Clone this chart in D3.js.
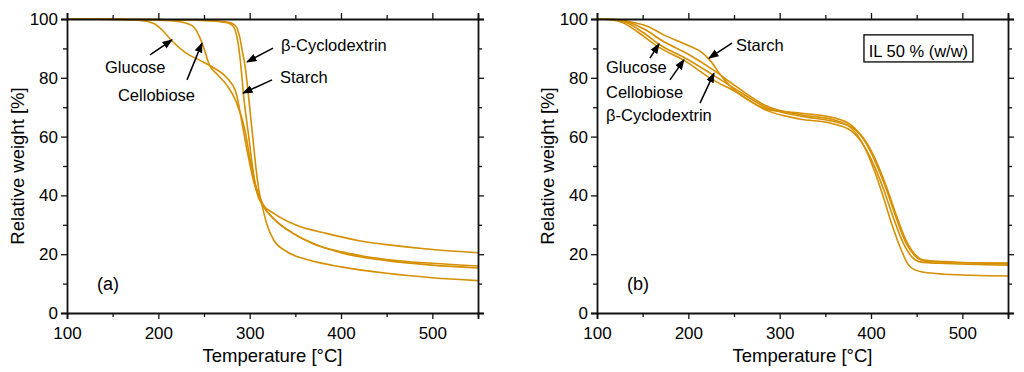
<!DOCTYPE html>
<html>
<head>
<meta charset="utf-8">
<script src="https://cdn.jsdelivr.net/npm/d3@7"></script>
<style>
  body { margin: 0; background: #fff; }
  text { font-family: "Liberation Sans", Arial, sans-serif; fill: #000; }
</style>
</head>
<body>
<div id="chart"></div>
<script>
// TGA curves: [temperature °C, relative weight %]
const glucoseA = [[100,100],[150,99.9],[180,99.5],[195,98.5],[205,96],[215,92.5],[230,88.5],[245,86],[260,83.5],[275,80],[285,75],[292,64],[298,54],[305,44],[315,36.7],[326,34],[350,30],[385,27],[420,24.6],[457,23],[500,21.6],[550,20.5]];
const cellobioseA = [[100,100],[200,99.6],[225,99],[238,97.5],[245,94],[250,90],[255,85],[265,81],[275,77.5],[285,72],[295,62],[300,53],[306,44],[315,36.7],[330,31],[348,27],[370,23.5],[402,20.7],[450,18.2],[500,16.9],[550,16]];
const cyclodextrinA = [[100,100],[200,99.8],[250,99.5],[270,99.1],[280,98.6],[285,97.5],[289,94],[292,89],[295,84],[298,76],[301,67],[304,58],[307,49],[310,42],[314,36],[319,30],[326,25],[340,21],[365,18],[402,15.6],[450,13.5],[500,12],[550,11]];
const starchA = [[100,100],[200,99.8],[250,99.5],[270,99],[277,98.6],[282,97.5],[286,94],[289,88],[291,82],[293,75],[296,67],[299,60],[303,50],[308,41],[315,36.2],[325,32.5],[348,27],[375,23],[402,20.3],[450,17.8],[500,16.3],[550,15.3]];

const glucoseB = [[100,100],[115,99.8],[128,98.8],[145,95.5],[167,90.5],[195,86],[227,79.3],[252,75.2],[285,69],[322,66],[358,64.4],[378,62],[392,57],[405,49],[415,41],[425,32],[435,24],[445,19],[455,17.3],[475,16.9],[550,16.3]];
const cellobioseB = [[100,100],[118,99.8],[132,98.8],[150,95.5],[170,91],[195,87],[227,81],[250,76.5],[285,70],[322,67],[358,65.2],[380,63],[395,58],[408,50],[418,42],[428,33],[438,25],[448,20],[458,18],[480,17.5],[550,16.8]];
const cyclodextrinB = [[100,100],[120,99.8],[135,98.9],[152,96.5],[172,92.5],[200,88],[228,82.5],[248,78],[285,70.5],[322,67.5],[358,65.8],[378,63],[392,57],[403,49],[413,40],[423,30],[433,21.5],[442,16],[455,14],[480,13.2],[550,12.6]];
const starchB = [[100,100],[122,99.8],[140,98.8],[155,97.5],[173,94.6],[200,91],[215,88.6],[225,85.5],[235,81],[248,76.5],[268,72],[290,69],[322,68],[358,66.5],[380,63.5],[395,57.5],[408,49],[418,41],[428,32],[438,24],[448,19.5],[460,17.6],[490,17.2],[550,17]];

const xTicks = [100, 200, 300, 400, 500];
const xMinor = [150, 250, 350, 450, 550];
const yTicks = [0, 20, 40, 60, 80, 100];
const yMinor = [10, 30, 50, 70, 90];

// annotations: label, text anchor [T, w], arrow tail, arrow head (data units)
const labelsA = [
  {t: "Glucose",        at: [141.6, 81.6], from: [190.9, 87.8], to: [215, 92.9]},
  {t: "Cellobiose",     at: [155.8, 72.0], from: [231.4, 79.3], to: [247.8, 91.8]},
  {t: "β-Cyclodextrin", at: [334.3, 89.2], from: [325.6, 90.1], to: [297.1, 85.4]},
  {t: "Starch",         at: [333.2, 78.3], from: [324.5, 79.3], to: [292.7, 74.8]}
];
const labelsB = [
  {t: "Starch",         at: [252.2, 89.1], from: [247.8, 91.8], to: [222.6, 86.7]},
  {t: "Glucose",        at: [109.9, 81.5], from: [158.0, 86.7], to: [167.9, 91.5]},
  {t: "Cellobiose",     at: [109.9, 73.0], from: [179.9, 79.3], to: [195.2, 86.1]},
  {t: "β-Cyclodextrin", at: [109.9, 65.3], from: [212.8, 71.4], to: [228.1, 81.6]}
];

const W = 1024, H = 372;
const lineColor = "#d68f00";

const svg = d3.select("#chart").append("svg")
    .attr("width", W)
    .attr("height", H);

svg.append("defs").append("marker")
    .attr("id", "arrow")
    .attr("viewBox", "0 0 10 10")
    .attr("refX", 9).attr("refY", 5)
    .attr("markerWidth", 7).attr("markerHeight", 7)
    .attr("markerUnits", "strokeWidth")
    .attr("orient", "auto")
  .append("path")
    .attr("d", "M0,1.2 L10,5 L0,8.8 Z")
    .attr("fill", "#000");

function panel(left, series, labels, tag, boxText) {
    const x = d3.scaleLinear().domain([100, 550]).range([left, left + 411]);
    const y = d3.scaleLinear().domain([0, 100]).range([313, 19]);
    const g = svg.append("g");

    const line = d3.line()
        .x(d => x(d[0]))
        .y(d => y(d[1]))
        .curve(d3.curveMonotoneX);

    g.selectAll("path.curve")
        .data(series)
        .enter().append("path")
        .attr("class", "curve")
        .attr("d", line)
        .attr("fill", "none")
        .attr("stroke", lineColor)
        .attr("stroke-width", 1.6);

    // axes on all four sides, labels only bottom and left
    const axes = [
        [d3.axisBottom(x), 313, null],
        [d3.axisTop(x), 19, null],
        [d3.axisLeft(y), null, left],
        [d3.axisRight(y), null, left + 411]
    ];
    axes.forEach(([ax, ty, tx], i) => {
        const isX = i < 2;
        const gm = g.append("g")
            .attr("transform", isX ? `translate(0,${ty})` : `translate(${tx},0)`)
            .call(ax.tickValues(isX ? xTicks : yTicks).tickSize(6).tickPadding(isX ? 8 : 3)
                .tickFormat((i === 0 || i === 2) ? d3.format("d") : () => ""));
        gm.selectAll("text").attr("font-size", 17).attr("fill", "#000");
        gm.select(".domain").attr("stroke", "#111").attr("stroke-width", 1.8);
        gm.selectAll(".tick line").attr("stroke", "#111").attr("stroke-width", 1.3);
        gm.attr("font-family", null);

        const minorAx = (i === 0 ? d3.axisBottom(x) : i === 1 ? d3.axisTop(x) : i === 2 ? d3.axisLeft(y) : d3.axisRight(y));
        const gn = g.append("g")
            .attr("transform", isX ? `translate(0,${ty})` : `translate(${tx},0)`)
            .call(minorAx.tickValues(isX ? xMinor : yMinor).tickSize(4).tickFormat(() => ""));
        gn.select(".domain").remove();
        gn.selectAll(".tick line").attr("stroke", "#111").attr("stroke-width", 1.3);
    });

    g.append("text")
        .attr("x", left + 205.5).attr("y", 362)
        .attr("text-anchor", "middle")
        .attr("font-size", 18.5)
        .text("Temperature [°C]");

    g.append("text")
        .attr("transform", `translate(${left - 43},166) rotate(-90)`)
        .attr("text-anchor", "middle")
        .attr("font-size", 18.5)
        .text("Relative weight [%]");

    g.append("text")
        .attr("x", x(132.8)).attr("y", y(7.8))
        .attr("font-size", 18)
        .text(tag);

    labels.forEach(l => {
        g.append("text")
            .attr("x", x(l.at[0])).attr("y", y(l.at[1]))
            .attr("font-size", 16.5)
            .text(l.t);
        g.append("line")
            .attr("x1", x(l.from[0])).attr("y1", y(l.from[1]))
            .attr("x2", x(l.to[0])).attr("y2", y(l.to[1]))
            .attr("stroke", "#000")
            .attr("stroke-width", 1.5)
            .attr("marker-end", "url(#arrow)");
    });

    if (boxText) {
        g.append("rect")
            .attr("x", x(392.3)).attr("y", y(94.6))
            .attr("width", x(511.6) - x(392.3))
            .attr("height", y(85.4) - y(94.6))
            .attr("fill", "#fff")
            .attr("stroke", "#000")
            .attr("stroke-width", 1.3);
        g.append("text")
            .attr("x", (x(392.3) + x(511.6)) / 2).attr("y", y(87.2))
            .attr("text-anchor", "middle")
            .attr("font-size", 16.5)
            .text(boxText);
    }
}

panel(67, [glucoseA, cellobioseA, cyclodextrinA, starchA], labelsA, "(a)", null);
panel(597, [glucoseB, cellobioseB, cyclodextrinB, starchB], labelsB, "(b)", "IL 50 % (w/w)");
</script>
</body>
</html>
